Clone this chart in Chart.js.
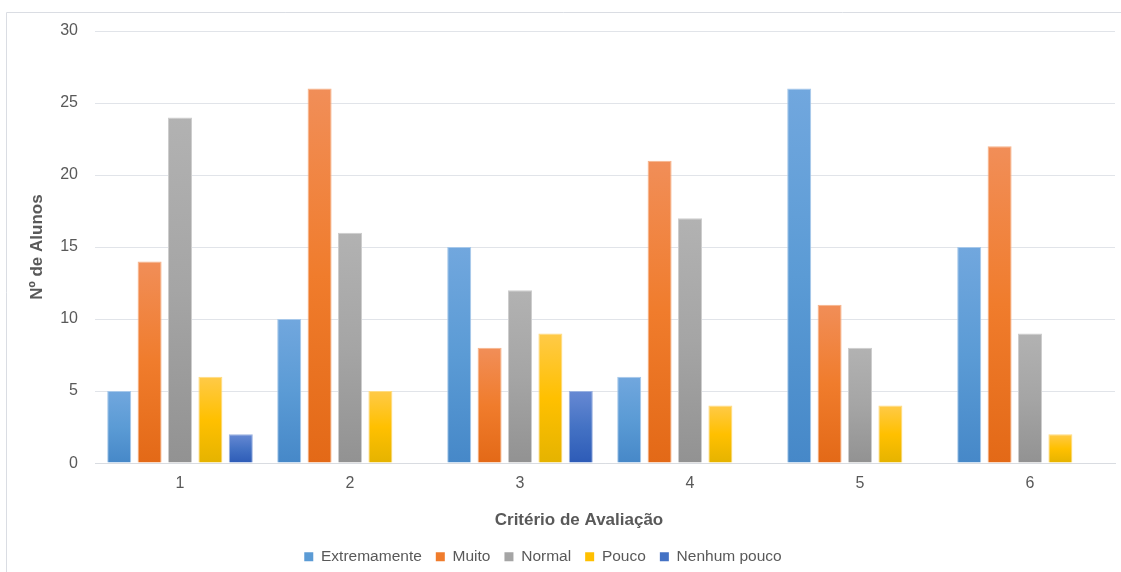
<!DOCTYPE html>
<html>
<head>
<meta charset="utf-8">
<title>Critério de Avaliação</title>
<script src="https://cdn.jsdelivr.net/npm/chart.js@4/dist/chart.umd.min.js"></script>
<style>
  html, body { margin: 0; padding: 0; background: #ffffff; }
  #wrap { position: relative; width: 1121px; height: 572px; }
</style>
</head>
<body>
<div id="wrap"><canvas id="grafico" width="1121" height="572"></canvas></div>
<script>
// Number of students per rating, for each evaluation criterion
const criterios    = ['1', '2', '3', '4', '5', '6'];
const extremamente = [5, 10, 15, 6, 26, 15];
const muito        = [14, 26, 8, 21, 11, 22];
const normal       = [24, 16, 12, 17, 8, 9];
const pouco        = [6, 5, 9, 4, 4, 2];
const nenhumPouco  = [2, 0, 5, 0, 0, 0];
const yTicks       = [0, 5, 10, 15, 20, 25, 30];

const FONT = "'Liberation Sans', Arial, sans-serif";
const TEXT = '#595959';

// Colour ramps (top, middle, bottom) and edge tint for each series
const PAL = {
  blue:   { stops: ['#71a7de', '#5b9bd5', '#4688c8'], edge: '#a7c8ea' },
  orange: { stops: ['#f18e58', '#f07c2c', '#e36917'], edge: '#f6b48a' },
  gray:   { stops: ['#b2b2b2', '#a5a5a5', '#929292'], edge: '#cdcdcd' },
  yellow: { stops: ['#ffca48', '#ffc000', '#e5b300'], edge: '#ffdc80' },
  navy:   { stops: ['#6789d3', '#4472c4', '#2d5bb7'], edge: '#9ab1e0' }
};

// Vertical gradient spanning each bar from its top to the zero line
function barFill(p) {
  return (ctx) => {
    const chart = ctx.chart;
    const y = chart.scales && chart.scales.y;
    if (!chart.chartArea || !y || ctx.type !== 'data') return p.stops[1];
    const top = y.getPixelForValue(ctx.raw);
    const base = y.getPixelForValue(0);
    if (!isFinite(top) || base - top < 1) return p.stops[1];
    const g = chart.ctx.createLinearGradient(0, top, 0, base);
    g.addColorStop(0, p.stops[0]);
    g.addColorStop(0.5, p.stops[1]);
    g.addColorStop(1, p.stops[2]);
    return g;
  };
}

function serie(label, data, p) {
  return {
    label, data,
    solid: p.stops[1],
    backgroundColor: barFill(p),
    borderColor: p.edge,
    borderWidth: { top: 1, left: 1, right: 1, bottom: 0 },
    borderSkipped: 'start'
  };
}

// Thin outline along the top and left of the chart frame
const frame = {
  id: 'frame',
  beforeDraw(chart) {
    const c = chart.ctx;
    c.save();
    c.strokeStyle = '#dadde3';
    c.lineWidth = 1;
    c.beginPath();
    c.moveTo(6.5, chart.height);
    c.lineTo(6.5, 12.5);
    c.lineTo(chart.width, 12.5);
    c.stroke();
    c.restore();
  }
};

// Final placement of the axis caption and the legend under the plot
const placement = {
  id: 'placement',
  afterLayout(chart) {
    const lg = chart.legend;
    if (lg) {
      const dx = 543 - (lg.left + lg.right) / 2;
      const dy = 535 - lg.top;
      lg.left += dx; lg.right += dx; lg.top += dy; lg.bottom += dy;
    }
    const t = chart.titleBlock;
    if (t) {
      const dx = 579 - (t.left + t.right) / 2;
      t.left += dx; t.right += dx;
    }
  }
};

new Chart(document.getElementById('grafico'), {
  type: 'bar',
  data: {
    labels: criterios,
    datasets: [
      serie('Extremamente', extremamente, PAL.blue),
      serie('Muito', muito, PAL.orange),
      serie('Normal', normal, PAL.gray),
      serie('Pouco', pouco, PAL.yellow),
      serie('Nenhum pouco', nenhumPouco, PAL.navy)
    ]
  },
  options: {
    responsive: false,
    animation: false,
    devicePixelRatio: 1,
    categoryPercentage: 0.894,
    barPercentage: 0.79,
    layout: { padding: { top: 31, left: 0, right: 6, bottom: 0 } },
    font: { family: FONT },
    scales: {
      x: {
        grid: { display: false, drawTicks: false },
        border: { display: true, color: '#d9dce1', width: 1 },
        ticks: { color: TEXT, font: { family: FONT, size: 16 }, padding: 11 },
        afterFit(scale) { scale.height = 35; }
      },
      y: {
        min: 0,
        max: 30,
        afterBuildTicks(scale) { scale.ticks = yTicks.map(v => ({ value: v })); },
        grid: { color: '#e1e4e9', lineWidth: 1, drawTicks: false },
        border: { display: false },
        ticks: { color: TEXT, font: { family: FONT, size: 16 }, padding: 17 },
        title: {
          display: true,
          text: 'Nº de Alunos',
          color: TEXT,
          font: { family: FONT, size: 17, weight: 'bold' },
          padding: { top: 27, bottom: 0 }
        },
        afterFit(scale) { scale.width = 95; }
      }
    },
    plugins: {
      title: {
        display: true,
        position: 'bottom',
        weight: 100,
        text: 'Critério de Avaliação',
        color: TEXT,
        font: { family: FONT, size: 17, weight: 'bold' },
        padding: { top: 12, bottom: 2 }
      },
      legend: {
        position: 'bottom',
        weight: 1000,
        labels: {
          color: TEXT,
          font: { family: FONT, size: 15.5 },
          boxWidth: 9,
          boxHeight: 9,
          padding: 14,
          generateLabels(chart) {
            return chart.data.datasets.map((ds, i) => ({
              text: ds.label,
              fillStyle: ds.solid,
              strokeStyle: ds.solid,
              lineWidth: 0,
              hidden: !chart.isDatasetVisible(i),
              datasetIndex: i,
              fontColor: TEXT
            }));
          }
        }
      },
      tooltip: { enabled: false }
    }
  },
  plugins: [frame, placement]
});
</script>
</body>
</html>
